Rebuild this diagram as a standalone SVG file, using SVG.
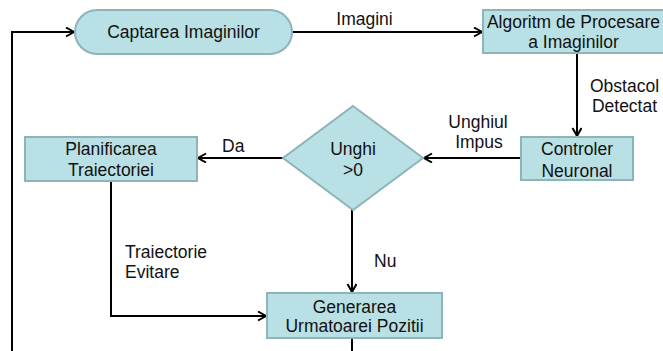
<svg xmlns="http://www.w3.org/2000/svg" width="663" height="351" viewBox="0 0 663 351">
<style>
.n{fill:#b9e0e4;stroke:#8db4b8;stroke-width:2}
.t{font-family:"Liberation Sans",Arial,sans-serif;font-size:17.5px;fill:#111;text-anchor:middle}
.l{font-family:"Liberation Sans",Arial,sans-serif;font-size:17.5px;fill:#111}
.c{fill:none;stroke:#000;stroke-width:2}
</style>
<defs>
<marker id="ah" markerUnits="userSpaceOnUse" markerWidth="12" markerHeight="12" refX="9" refY="5" orient="auto">
<path d="M1,0.5 L9,5 L1,9.5" fill="none" stroke="#000" stroke-width="2"/>
</marker>
</defs>
<rect width="663" height="351" fill="#fff"/>
<g id="connectors">
<path class="c" d="M12,351 V32 H74" marker-end="url(#ah)"/>
<path class="c" d="M292,32 H482" marker-end="url(#ah)"/>
<path class="c" d="M577,54 V136" marker-end="url(#ah)"/>
<path class="c" d="M521,158 H424" marker-end="url(#ah)"/>
<path class="c" d="M283,158 H198" marker-end="url(#ah)"/>
<path class="c" d="M352,210 V292" marker-end="url(#ah)"/>
<path class="c" d="M111,181 V316 H266" marker-end="url(#ah)"/>
<path class="c" d="M352,338 V351"/>
<text class="t" x="364.5" y="25">Imagini</text>
<text class="t" x="624.5" y="91.5">Obstacol</text>
<text class="t" x="624.5" y="111.5">Detectat</text>
<text class="t" x="478" y="128">Unghiul</text>
<text class="t" x="479" y="148">Impus</text>
<text class="l" x="222" y="152">Da</text>
<text class="l" x="374" y="267">Nu</text>
<text class="l" x="125" y="258">Traiectorie</text>
<text class="l" x="125" y="278">Evitare</text>
</g>
<g id="captarea">
<rect class="n" x="75" y="10" width="217" height="44" rx="22" ry="22"/>
<text class="t" x="183.5" y="38">Captarea Imaginilor</text>
</g>
<g id="algoritm">
<rect class="n" x="483" y="10" width="184" height="43"/>
<text class="t" x="573.5" y="28">Algoritm de Procesare</text>
<text class="t" x="573.5" y="48">a Imaginilor</text>
</g>
<g id="controler">
<rect class="n" x="521" y="137" width="112" height="43"/>
<text class="t" x="577" y="155">Controler</text>
<text class="t" x="577" y="176.5">Neuronal</text>
</g>
<g id="decizie">
<polygon class="n" points="353,106 423,158 353,210 283,158"/>
<text class="t" x="353" y="155">Unghi</text>
<text class="t" x="353" y="176">&gt;0</text>
</g>
<g id="planificarea">
<rect class="n" x="25" y="137" width="172" height="44"/>
<text class="t" x="111" y="155">Planificarea</text>
<text class="t" x="111" y="176">Traiectoriei</text>
</g>
<g id="generarea">
<rect class="n" x="267" y="293" width="175" height="45"/>
<text class="t" x="354.5" y="313">Generarea</text>
<text class="t" x="354.5" y="332">Urmatoarei Pozitii</text>
</g>
</svg>
